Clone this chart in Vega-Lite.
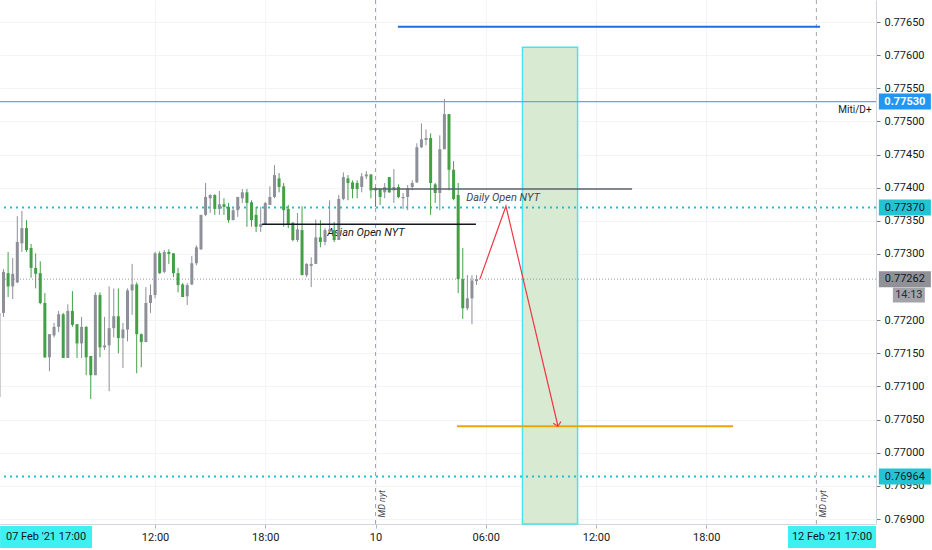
{
  "$schema": "https://vega.github.io/schema/vega-lite/v6.json",
  "width": 876,
  "height": 524,
  "autosize": {"type": "none"},
  "padding": {"left": 0, "top": 0, "right": 56, "bottom": 26},
  "background": "#ffffff",
  "config": {"view": {"stroke": null}, "font": "Roboto", "text": {"font": "Roboto"}},
  "resolve": {"axis": {"x": "independent", "y": "independent"}},
  "datasets": {
    "candles": [
      {"time":"2021-02-09T03:30:00Z","open":0.77084,"high":0.77214,"low":0.77082,"close":0.77211},
      {"time":"2021-02-09T03:45:00Z","open":0.77211,"high":0.77277,"low":0.77205,"close":0.77273},
      {"time":"2021-02-09T04:00:00Z","open":0.77271,"high":0.77303,"low":0.77235,"close":0.77251},
      {"time":"2021-02-09T04:15:00Z","open":0.77251,"high":0.77294,"low":0.77232,"close":0.77270},
      {"time":"2021-02-09T04:30:00Z","open":0.77257,"high":0.77357,"low":0.77256,"close":0.77318},
      {"time":"2021-02-09T04:45:00Z","open":0.77316,"high":0.77365,"low":0.77303,"close":0.77339},
      {"time":"2021-02-09T05:00:00Z","open":0.77339,"high":0.77351,"low":0.77303,"close":0.77306},
      {"time":"2021-02-09T05:15:00Z","open":0.77309,"high":0.77315,"low":0.77264,"close":0.77279},
      {"time":"2021-02-09T05:30:00Z","open":0.77279,"high":0.77301,"low":0.77248,"close":0.77270},
      {"time":"2021-02-09T05:45:00Z","open":0.77271,"high":0.77289,"low":0.77224,"close":0.77226},
      {"time":"2021-02-09T06:00:00Z","open":0.77226,"high":0.77241,"low":0.77143,"close":0.77144},
      {"time":"2021-02-09T06:15:00Z","open":0.77144,"high":0.77179,"low":0.77123,"close":0.77179},
      {"time":"2021-02-09T06:30:00Z","open":0.77177,"high":0.77196,"low":0.77174,"close":0.77190},
      {"time":"2021-02-09T06:45:00Z","open":0.77190,"high":0.77214,"low":0.77182,"close":0.77209},
      {"time":"2021-02-09T07:00:00Z","open":0.77209,"high":0.77211,"low":0.77143,"close":0.77143},
      {"time":"2021-02-09T07:15:00Z","open":0.77143,"high":0.77224,"low":0.77143,"close":0.77214},
      {"time":"2021-02-09T07:30:00Z","open":0.77214,"high":0.77244,"low":0.77190,"close":0.77193},
      {"time":"2021-02-09T07:45:00Z","open":0.77194,"high":0.77194,"low":0.77143,"close":0.77165},
      {"time":"2021-02-09T08:00:00Z","open":0.77165,"high":0.77205,"low":0.77143,"close":0.77190},
      {"time":"2021-02-09T08:15:00Z","open":0.77190,"high":0.77191,"low":0.77117,"close":0.77144},
      {"time":"2021-02-09T08:30:00Z","open":0.77146,"high":0.77146,"low":0.77081,"close":0.77117},
      {"time":"2021-02-09T08:45:00Z","open":0.77117,"high":0.77242,"low":0.77117,"close":0.77238},
      {"time":"2021-02-09T09:00:00Z","open":0.77238,"high":0.77242,"low":0.77144,"close":0.77159},
      {"time":"2021-02-09T09:15:00Z","open":0.77159,"high":0.77205,"low":0.77155,"close":0.77162},
      {"time":"2021-02-09T09:30:00Z","open":0.77162,"high":0.77251,"low":0.77093,"close":0.77188},
      {"time":"2021-02-09T09:45:00Z","open":0.77188,"high":0.77248,"low":0.77174,"close":0.77206},
      {"time":"2021-02-09T10:00:00Z","open":0.77206,"high":0.77248,"low":0.77150,"close":0.77173},
      {"time":"2021-02-09T10:15:00Z","open":0.77173,"high":0.77196,"low":0.77128,"close":0.77186},
      {"time":"2021-02-09T10:30:00Z","open":0.77186,"high":0.77248,"low":0.77168,"close":0.77245},
      {"time":"2021-02-09T10:45:00Z","open":0.77245,"high":0.77285,"low":0.77208,"close":0.77254},
      {"time":"2021-02-09T11:00:00Z","open":0.77254,"high":0.77257,"low":0.77120,"close":0.77179},
      {"time":"2021-02-09T11:15:00Z","open":0.77179,"high":0.77180,"low":0.77129,"close":0.77167},
      {"time":"2021-02-09T11:30:00Z","open":0.77167,"high":0.77250,"low":0.77167,"close":0.77226},
      {"time":"2021-02-09T11:45:00Z","open":0.77226,"high":0.77254,"low":0.77211,"close":0.77238},
      {"time":"2021-02-09T12:00:00Z","open":0.77238,"high":0.77303,"low":0.77233,"close":0.77301},
      {"time":"2021-02-09T12:15:00Z","open":0.77301,"high":0.77304,"low":0.77270,"close":0.77271},
      {"time":"2021-02-09T12:30:00Z","open":0.77273,"high":0.77306,"low":0.77271,"close":0.77303},
      {"time":"2021-02-09T12:45:00Z","open":0.77303,"high":0.77307,"low":0.77285,"close":0.77300},
      {"time":"2021-02-09T13:00:00Z","open":0.77301,"high":0.77301,"low":0.77265,"close":0.77271},
      {"time":"2021-02-09T13:15:00Z","open":0.77271,"high":0.77279,"low":0.77242,"close":0.77253},
      {"time":"2021-02-09T13:30:00Z","open":0.77254,"high":0.77256,"low":0.77235,"close":0.77235},
      {"time":"2021-02-09T13:45:00Z","open":0.77236,"high":0.77256,"low":0.77223,"close":0.77253},
      {"time":"2021-02-09T14:00:00Z","open":0.77254,"high":0.77297,"low":0.77253,"close":0.77286},
      {"time":"2021-02-09T14:15:00Z","open":0.77286,"high":0.77313,"low":0.77283,"close":0.77310},
      {"time":"2021-02-09T14:30:00Z","open":0.77307,"high":0.77359,"low":0.77306,"close":0.77359},
      {"time":"2021-02-09T14:45:00Z","open":0.77359,"high":0.77407,"low":0.77357,"close":0.77386},
      {"time":"2021-02-09T15:00:00Z","open":0.77384,"high":0.77390,"low":0.77362,"close":0.77389},
      {"time":"2021-02-09T15:15:00Z","open":0.77389,"high":0.77390,"low":0.77359,"close":0.77368},
      {"time":"2021-02-09T15:30:00Z","open":0.77368,"high":0.77395,"low":0.77359,"close":0.77375},
      {"time":"2021-02-09T15:45:00Z","open":0.77375,"high":0.77384,"low":0.77359,"close":0.77371},
      {"time":"2021-02-09T16:00:00Z","open":0.77371,"high":0.77377,"low":0.77347,"close":0.77351},
      {"time":"2021-02-09T16:15:00Z","open":0.77351,"high":0.77369,"low":0.77351,"close":0.77366},
      {"time":"2021-02-09T16:30:00Z","open":0.77366,"high":0.77386,"low":0.77356,"close":0.77386},
      {"time":"2021-02-09T16:45:00Z","open":0.77384,"high":0.77398,"low":0.77377,"close":0.77393},
      {"time":"2021-02-09T17:00:00Z","open":0.77393,"high":0.77398,"low":0.77341,"close":0.77377},
      {"time":"2021-02-09T17:15:00Z","open":0.77378,"high":0.77381,"low":0.77341,"close":0.77351},
      {"time":"2021-02-09T17:30:00Z","open":0.77359,"high":0.77371,"low":0.77333,"close":0.77341},
      {"time":"2021-02-09T17:45:00Z","open":0.77341,"high":0.77371,"low":0.77333,"close":0.77345},
      {"time":"2021-02-09T18:00:00Z","open":0.77345,"high":0.77378,"low":0.77345,"close":0.77377},
      {"time":"2021-02-09T18:15:00Z","open":0.77374,"high":0.77402,"low":0.77374,"close":0.77386},
      {"time":"2021-02-09T18:30:00Z","open":0.77386,"high":0.77434,"low":0.77384,"close":0.77419},
      {"time":"2021-02-09T18:45:00Z","open":0.77414,"high":0.77422,"low":0.77393,"close":0.77401},
      {"time":"2021-02-09T19:00:00Z","open":0.77402,"high":0.77407,"low":0.77341,"close":0.77366},
      {"time":"2021-02-09T19:15:00Z","open":0.77368,"high":0.77374,"low":0.77339,"close":0.77345},
      {"time":"2021-02-09T19:30:00Z","open":0.77347,"high":0.77348,"low":0.77319,"close":0.77321},
      {"time":"2021-02-09T19:45:00Z","open":0.77321,"high":0.77362,"low":0.77318,"close":0.77337},
      {"time":"2021-02-09T20:00:00Z","open":0.77336,"high":0.77372,"low":0.77268,"close":0.77268},
      {"time":"2021-02-09T20:15:00Z","open":0.77268,"high":0.77286,"low":0.77265,"close":0.77285},
      {"time":"2021-02-09T20:30:00Z","open":0.77282,"high":0.77295,"low":0.77250,"close":0.77285},
      {"time":"2021-02-09T20:45:00Z","open":0.77285,"high":0.77352,"low":0.77285,"close":0.77325},
      {"time":"2021-02-09T21:00:00Z","open":0.77325,"high":0.77351,"low":0.77310,"close":0.77318},
      {"time":"2021-02-09T21:15:00Z","open":0.77318,"high":0.77339,"low":0.77313,"close":0.77336},
      {"time":"2021-02-09T21:30:00Z","open":0.77334,"high":0.77381,"low":0.77333,"close":0.77337},
      {"time":"2021-02-09T21:45:00Z","open":0.77336,"high":0.77348,"low":0.77318,"close":0.77321},
      {"time":"2021-02-09T22:00:00Z","open":0.77321,"high":0.77389,"low":0.77321,"close":0.77383},
      {"time":"2021-02-09T22:15:00Z","open":0.77383,"high":0.77423,"low":0.77381,"close":0.77416},
      {"time":"2021-02-09T22:30:00Z","open":0.77414,"high":0.77419,"low":0.77381,"close":0.77407},
      {"time":"2021-02-09T22:45:00Z","open":0.77408,"high":0.77411,"low":0.77384,"close":0.77398},
      {"time":"2021-02-09T23:00:00Z","open":0.77407,"high":0.77411,"low":0.77384,"close":0.77398},
      {"time":"2021-02-09T23:15:00Z","open":0.77401,"high":0.77422,"low":0.77393,"close":0.77417},
      {"time":"2021-02-09T23:30:00Z","open":0.77417,"high":0.77425,"low":0.77413,"close":0.77420},
      {"time":"2021-02-09T23:45:00Z","open":0.77420,"high":0.77420,"low":0.77384,"close":0.77396},
      {"time":"2021-02-10T00:00:00Z","open":0.77399,"high":0.77401,"low":0.77371,"close":0.77396},
      {"time":"2021-02-10T00:15:00Z","open":0.77398,"high":0.77399,"low":0.77374,"close":0.77386},
      {"time":"2021-02-10T00:30:00Z","open":0.77393,"high":0.77407,"low":0.77384,"close":0.77401},
      {"time":"2021-02-10T00:45:00Z","open":0.77416,"high":0.77416,"low":0.77392,"close":0.77393},
      {"time":"2021-02-10T01:00:00Z","open":0.77396,"high":0.77428,"low":0.77377,"close":0.77401},
      {"time":"2021-02-10T01:15:00Z","open":0.77401,"high":0.77405,"low":0.77384,"close":0.77386},
      {"time":"2021-02-10T01:30:00Z","open":0.77384,"high":0.77392,"low":0.77368,"close":0.77386},
      {"time":"2021-02-10T01:45:00Z","open":0.77386,"high":0.77404,"low":0.77366,"close":0.77399},
      {"time":"2021-02-10T02:00:00Z","open":0.77401,"high":0.77411,"low":0.77396,"close":0.77407},
      {"time":"2021-02-10T02:15:00Z","open":0.77408,"high":0.77467,"low":0.77407,"close":0.77461},
      {"time":"2021-02-10T02:30:00Z","open":0.77461,"high":0.77497,"low":0.77460,"close":0.77473},
      {"time":"2021-02-10T02:45:00Z","open":0.77472,"high":0.77488,"low":0.77464,"close":0.77475},
      {"time":"2021-02-10T03:00:00Z","open":0.77475,"high":0.77482,"low":0.77359,"close":0.77407},
      {"time":"2021-02-10T03:15:00Z","open":0.77405,"high":0.77407,"low":0.77377,"close":0.77392},
      {"time":"2021-02-10T03:30:00Z","open":0.77392,"high":0.77479,"low":0.77366,"close":0.77458},
      {"time":"2021-02-10T03:45:00Z","open":0.77458,"high":0.77534,"low":0.77458,"close":0.77511},
      {"time":"2021-02-10T04:00:00Z","open":0.77511,"high":0.77511,"low":0.77396,"close":0.77427},
      {"time":"2021-02-10T04:15:00Z","open":0.77427,"high":0.77440,"low":0.77381,"close":0.77383},
      {"time":"2021-02-10T04:30:00Z","open":0.77389,"high":0.77407,"low":0.77241,"close":0.77262},
      {"time":"2021-02-10T04:45:00Z","open":0.77262,"high":0.77309,"low":0.77202,"close":0.77218},
      {"time":"2021-02-10T05:00:00Z","open":0.77218,"high":0.77268,"low":0.77215,"close":0.77233},
      {"time":"2021-02-10T05:15:00Z","open":0.77233,"high":0.77268,"low":0.77194,"close":0.77260},
      {"time":"2021-02-10T05:30:00Z","open":0.77259,"high":0.77268,"low":0.77253,"close":0.77262}
    ]
  },
  "layer": [
    {
      "data": {"name": "candles"},
      "mark": {"type": "rule", "strokeWidth": 1, "opacity": 0},
      "encoding": {
        "x": {
          "field": "time", "type": "temporal",
          "scale": {"type": "utc", "domain": [
            {"year": 2021, "month": 2, "date": 9, "hours": 3, "minutes": 33, "seconds": 30, "utc": true},
            {"year": 2021, "month": 2, "date": 11, "hours": 3, "minutes": 14, "seconds": 42, "utc": true}
          ]},
          "axis": {
            "orient": "bottom", "title": null,
            "values": [
              {"year": 2021, "month": 2, "date": 9, "hours": 12, "utc": true},
              {"year": 2021, "month": 2, "date": 9, "hours": 18, "utc": true},
              {"year": 2021, "month": 2, "date": 10, "hours": 0, "utc": true},
              {"year": 2021, "month": 2, "date": 10, "hours": 6, "utc": true},
              {"year": 2021, "month": 2, "date": 10, "hours": 12, "utc": true},
              {"year": 2021, "month": 2, "date": 10, "hours": 18, "utc": true}
            ],
            "labelExpr": "utchours(datum.value) == 0 ? utcFormat(datum.value, '%-d') : utcFormat(datum.value, '%H:%M')",
            "labelFont": "Roboto", "labelFontSize": 11, "labelColor": "#131722",
            "tickColor": "#b2b5be", "tickSize": 4, "domainColor": "#d1d4dc",
            "labelPadding": 3, "grid": true, "gridColor": "#f2f4f8"
          }
        },
        "y": {
          "field": "low", "type": "quantitative",
          "scale": {"domain": [0.768925, 0.776832], "zero": false, "nice": false},
          "axis": {
            "orient": "right", "title": null,
            "values": [0.769, 0.7695, 0.77, 0.7705, 0.771, 0.7715, 0.772, 0.773, 0.7735, 0.774, 0.7745, 0.775, 0.7755, 0.776, 0.7765],
            "format": ".5f",
            "labelFont": "Roboto", "labelFontSize": 11, "labelColor": "#131722",
            "tickColor": "#787b86", "tickSize": 4, "domainColor": "#d1d4dc",
            "labelPadding": 4, "grid": true, "gridColor": "#f2f4f8"
          }
        },
        "y2": {"field": "high"}
      }
    },
    {
      "data": {"values": [{"start": "2021-02-10T08:00:00Z", "end": "2021-02-10T11:00:00Z", "top": 0.77612, "bottom": 0.768925}]},
      "mark": {"type": "rect", "fill": "#d9ead3", "stroke": "#46e6ea", "strokeWidth": 1.5},
      "encoding": {
        "x": {"field": "start", "type": "temporal", "axis": null},
        "x2": {"field": "end"},
        "y": {"field": "top", "type": "quantitative", "axis": null},
        "y2": {"field": "bottom"}
      }
    },
    {
      "data": {"values": [{"time": "2021-02-10T00:00:00Z"}, {"time": "2021-02-11T00:00:00Z"}]},
      "mark": {"type": "rule", "color": "#a3a6af", "strokeWidth": 1, "strokeDash": [4, 4]},
      "encoding": {"x": {"field": "time", "type": "temporal", "axis": null}}
    },
    {
      "data": {"values": [{"price": 0.7753}]},
      "mark": {"type": "rule", "color": "#5ba8f2", "strokeWidth": 1.3},
      "encoding": {"y": {"field": "price", "type": "quantitative", "axis": null}}
    },
    {
      "data": {"values": [{"price": 0.7737}, {"price": 0.76964}]},
      "mark": {"type": "rule", "color": "#22bfd0", "strokeWidth": 2, "strokeDash": [2, 4]},
      "encoding": {"y": {"field": "price", "type": "quantitative", "axis": null}}
    },
    {
      "data": {"values": [{"price": 0.77262}]},
      "mark": {"type": "rule", "color": "#9598a1", "strokeWidth": 1, "strokeDash": [1, 2]},
      "encoding": {"y": {"field": "price", "type": "quantitative", "axis": null}}
    },
    {
      "data": {"values": [{"time": "2021-02-09T21:22:00Z", "price": 0.77332, "label": "Asian Open NYT"}]},
      "mark": {"type": "text", "align": "left", "baseline": "middle", "fontStyle": "italic", "fontSize": 11, "color": "#131722"},
      "encoding": {
        "x": {"field": "time", "type": "temporal", "axis": null},
        "y": {"field": "price", "type": "quantitative", "axis": null},
        "text": {"field": "label"}
      }
    },
    {
      "data": {"name": "candles"},
      "mark": {"type": "rule", "strokeWidth": 1},
      "encoding": {
        "x": {"field": "time", "type": "temporal", "axis": null},
        "y": {"field": "low", "type": "quantitative", "axis": null},
        "y2": {"field": "high"},
        "color": {"condition": {"test": "datum.close >= datum.open", "value": "#8e9099"}, "value": "#43a047"}
      }
    },
    {
      "data": {"name": "candles"},
      "mark": {"type": "rule", "strokeWidth": 3, "strokeCap": "butt"},
      "encoding": {
        "x": {"field": "time", "type": "temporal", "axis": null},
        "y": {"field": "open", "type": "quantitative", "axis": null},
        "y2": {"field": "close"},
        "color": {"condition": {"test": "datum.close >= datum.open", "value": "#8e9099"}, "value": "#43a047"}
      }
    },
    {
      "data": {"values": [{"from": "2021-02-09T17:49:00Z", "to": "2021-02-10T05:28:00Z", "price": 0.77345}]},
      "mark": {"type": "rule", "color": "#131722", "strokeWidth": 1.5},
      "encoding": {
        "x": {"field": "from", "type": "temporal", "axis": null},
        "x2": {"field": "to"},
        "y": {"field": "price", "type": "quantitative", "axis": null}
      }
    },
    {
      "data": {"values": [{"from": "2021-02-09T23:49:00Z", "to": "2021-02-10T13:58:00Z", "price": 0.77398}]},
      "mark": {"type": "rule", "color": "#5d606b", "strokeWidth": 1.5},
      "encoding": {
        "x": {"field": "from", "type": "temporal", "axis": null},
        "x2": {"field": "to"},
        "y": {"field": "price", "type": "quantitative", "axis": null}
      }
    },
    {
      "data": {"values": [{"from": "2021-02-10T01:13:00Z", "to": "2021-02-11T00:12:00Z", "price": 0.77643}]},
      "mark": {"type": "rule", "color": "#1e6fe0", "strokeWidth": 2},
      "encoding": {
        "x": {"field": "from", "type": "temporal", "axis": null},
        "x2": {"field": "to"},
        "y": {"field": "price", "type": "quantitative", "axis": null}
      }
    },
    {
      "data": {"values": [{"from": "2021-02-10T04:26:00Z", "to": "2021-02-10T19:28:00Z", "price": 0.7704}]},
      "mark": {"type": "rule", "color": "#f0a30a", "strokeWidth": 2},
      "encoding": {
        "x": {"field": "from", "type": "temporal", "axis": null},
        "x2": {"field": "to"},
        "y": {"field": "price", "type": "quantitative", "axis": null}
      }
    },
    {
      "data": {"values": [
        {"time": "2021-02-10T05:41:00Z", "price": 0.77262, "step": 1},
        {"time": "2021-02-10T07:06:00Z", "price": 0.77372, "step": 2},
        {"time": "2021-02-10T09:56:00Z", "price": 0.7704, "step": 3}
      ]},
      "mark": {"type": "line", "color": "#f23645", "strokeWidth": 1.2},
      "encoding": {
        "x": {"field": "time", "type": "temporal", "axis": null},
        "y": {"field": "price", "type": "quantitative", "axis": null},
        "order": {"field": "step", "type": "quantitative"}
      }
    },
    {
      "data": {"values": [{"time": "2021-02-10T09:56:00Z", "price": 0.7704}]},
      "mark": {"type": "point", "shape": "M-1,-1L0,0L1,-1", "size": 64, "filled": false, "strokeWidth": 1.2, "color": "#f23645", "opacity": 1, "angle": -13},
      "encoding": {
        "x": {"field": "time", "type": "temporal", "axis": null},
        "y": {"field": "price", "type": "quantitative", "axis": null}
      }
    },
    {
      "data": {"values": [{"time": "2021-02-10T04:56:00Z", "price": 0.77384, "label": "Daily Open NYT"}]},
      "mark": {"type": "text", "align": "left", "baseline": "middle", "fontStyle": "italic", "fontSize": 11, "color": "#434651"},
      "encoding": {
        "x": {"field": "time", "type": "temporal", "axis": null},
        "y": {"field": "price", "type": "quantitative", "axis": null},
        "text": {"field": "label"}
      }
    },
    {
      "data": {"values": [{"time": "2021-02-11T02:06:00Z", "price": 0.77517, "label": "Miti/D+"}]},
      "mark": {"type": "text", "align": "center", "baseline": "middle", "fontSize": 10, "color": "#131722"},
      "encoding": {
        "x": {"field": "time", "type": "temporal", "axis": null},
        "y": {"field": "price", "type": "quantitative", "axis": null},
        "text": {"field": "label"}
      }
    },
    {
      "data": {"values": [{"time": "2021-02-10T00:22:00Z", "price": 0.76923, "label": "MD nyt"}, {"time": "2021-02-11T00:22:00Z", "price": 0.76923, "label": "MD nyt"}]},
      "mark": {"type": "text", "align": "center", "baseline": "middle", "fontStyle": "italic", "fontSize": 9, "color": "#434651", "angle": 270},
      "encoding": {
        "x": {"field": "time", "type": "temporal", "axis": null},
        "y": {"field": "price", "type": "quantitative", "axis": null},
        "text": {"field": "label"}
      }
    },
    {
      "data": {"values": [{"time": "2021-02-11T04:49:00Z", "price": 0.7753}]},
      "mark": {"type": "point", "shape": "M-1,-0.3077L1,-0.3077L1,0.3077L-1,0.3077Z", "size": 2704, "filled": true, "color": "#2196f3", "opacity": 1, "strokeWidth": 0},
      "encoding": {
        "x": {"field": "time", "type": "temporal", "axis": null},
        "y": {"field": "price", "type": "quantitative", "axis": null}
      }
    },
    {
      "data": {"values": [{"time": "2021-02-11T04:49:00Z", "price": 0.7737}, {"time": "2021-02-11T04:49:00Z", "price": 0.76964}]},
      "mark": {"type": "point", "shape": "M-1,-0.3077L1,-0.3077L1,0.3077L-1,0.3077Z", "size": 2704, "filled": true, "color": "#22c3d3", "opacity": 1, "strokeWidth": 0},
      "encoding": {
        "x": {"field": "time", "type": "temporal", "axis": null},
        "y": {"field": "price", "type": "quantitative", "axis": null}
      }
    },
    {
      "data": {"values": [{"time": "2021-02-11T04:49:00Z", "price": 0.77262}]},
      "mark": {"type": "point", "shape": "M-1,-0.3077L1,-0.3077L1,0.3077L-1,0.3077Z", "size": 2704, "filled": true, "color": "#8f9197", "opacity": 1, "strokeWidth": 0},
      "encoding": {
        "x": {"field": "time", "type": "temporal", "axis": null},
        "y": {"field": "price", "type": "quantitative", "axis": null}
      }
    },
    {
      "data": {"values": [{"time": "2021-02-11T05:02:00Z", "price": 0.77238, "label": "14:13"}]},
      "mark": {"type": "point", "shape": "M-1,-0.47L1,-0.47L1,0.47L-1,0.47Z", "size": 1024, "filled": true, "color": "#a2a4aa", "opacity": 1, "strokeWidth": 0},
      "encoding": {
        "x": {"field": "time", "type": "temporal", "axis": null},
        "y": {"field": "price", "type": "quantitative", "axis": null}
      }
    },
    {
      "data": {"values": [{"time": "2021-02-11T05:02:00Z", "price": 0.77238, "label": "14:13"}]},
      "mark": {"type": "text", "align": "center", "baseline": "middle", "fontSize": 11, "color": "#2a2e39"},
      "encoding": {
        "x": {"field": "time", "type": "temporal", "axis": null},
        "y": {"field": "price", "type": "quantitative", "axis": null},
        "text": {"field": "label"}
      }
    },
    {
      "data": {"values": [{"time": "2021-02-11T04:49:00Z", "price": 0.7753}]},
      "mark": {"type": "text", "align": "center", "baseline": "middle", "fontSize": 11, "fontWeight": "bold", "color": "#ffffff"},
      "encoding": {
        "x": {"field": "time", "type": "temporal", "axis": null},
        "y": {"field": "price", "type": "quantitative", "axis": null},
        "text": {"field": "price", "type": "quantitative", "format": ".5f"}
      }
    },
    {
      "data": {"values": [{"time": "2021-02-11T04:49:00Z", "price": 0.7737}, {"time": "2021-02-11T04:49:00Z", "price": 0.76964}, {"time": "2021-02-11T04:49:00Z", "price": 0.77262}]},
      "mark": {"type": "text", "align": "center", "baseline": "middle", "fontSize": 11, "color": "#131722"},
      "encoding": {
        "x": {"field": "time", "type": "temporal", "axis": null},
        "y": {"field": "price", "type": "quantitative", "axis": null},
        "text": {"field": "price", "type": "quantitative", "format": ".5f"}
      }
    },
    {
      "data": {"values": [{"time": "2021-02-09T06:04:00Z", "price": 0.768729}]},
      "mark": {"type": "point", "shape": "M-1,-0.239L1,-0.239L1,0.239L-1,0.239Z", "size": 8464, "filled": true, "color": "#3ff0f3", "opacity": 1, "strokeWidth": 0},
      "encoding": {
        "x": {"field": "time", "type": "temporal", "axis": null},
        "y": {"field": "price", "type": "quantitative", "axis": null}
      }
    },
    {
      "data": {"values": [{"time": "2021-02-11T00:51:00Z", "price": 0.768729}]},
      "mark": {"type": "point", "shape": "M-1,-0.25L1,-0.25L1,0.25L-1,0.25Z", "size": 7744, "filled": true, "color": "#3ff0f3", "opacity": 1, "strokeWidth": 0},
      "encoding": {
        "x": {"field": "time", "type": "temporal", "axis": null},
        "y": {"field": "price", "type": "quantitative", "axis": null}
      }
    },
    {
      "data": {"values": [{"time": "2021-02-09T06:04:00Z", "price": 0.768729, "label": "07 Feb '21   17:00"}, {"time": "2021-02-11T00:51:00Z", "price": 0.768729, "label": "12 Feb '21   17:00"}]},
      "mark": {"type": "text", "align": "center", "baseline": "middle", "fontSize": 11, "color": "#131722"},
      "encoding": {
        "x": {"field": "time", "type": "temporal", "axis": null},
        "y": {"field": "price", "type": "quantitative", "axis": null},
        "text": {"field": "label"}
      }
    }
  ]
}
